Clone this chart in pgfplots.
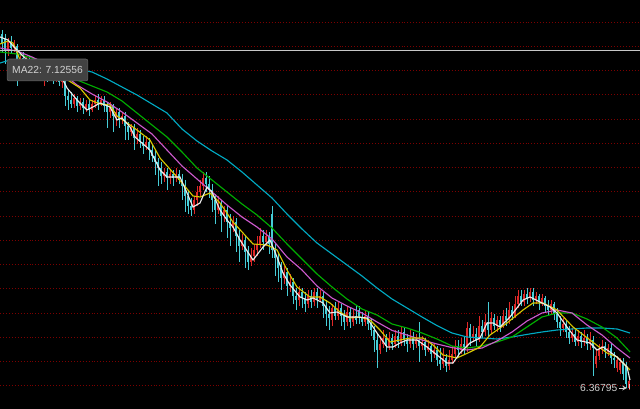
\documentclass[border=0pt]{standalone}
\usepackage{pgfplots}
\pgfplotsset{compat=1.18}
\usepackage{pgfplotstable}
\usepackage{fontspec}
\setmainfont{Liberation Sans}
\definecolor{gridc}{RGB}{125,0,0}
\definecolor{upc}{RGB}{225,40,40}
\definecolor{dnc}{RGB}{70,205,215}
\definecolor{maw}{RGB}{235,235,235}
\definecolor{may}{RGB}{215,200,0}
\definecolor{mam}{RGB}{205,90,205}
\definecolor{mag}{RGB}{0,175,0}
\definecolor{mac}{RGB}{0,170,195}
\definecolor{labbg}{RGB}{66,66,66}
\definecolor{labbd}{RGB}{100,100,100}
\definecolor{txt}{RGB}{210,210,210}
\definecolor{xline}{RGB}{200,200,200}

\pgfplotstableread{
i o h l c
0 7.235 7.245 7.19 7.21
1 7.225 7.235 7.16 7.195
2 7.195 7.225 7.18 7.215
3 7.215 7.23 7.185 7.2
4 7.2 7.22 7.19 7.21
5 7.205 7.21 7.105 7.165
6 7.165 7.185 7.145 7.175
7 7.175 7.19 7.14 7.16
8 7.16 7.18 7.145 7.17
9 7.17 7.18 7.135 7.15
10 7.15 7.17 7.135 7.155
11 7.155 7.165 7.125 7.14
12 7.14 7.16 7.13 7.15
13 7.15 7.16 7.12 7.13
14 7.13 7.15 7.105 7.14
15 7.14 7.15 7.115 7.125
16 7.125 7.145 7.12 7.135
17 7.135 7.145 7.11 7.12
18 7.12 7.14 7.115 7.13
19 7.13 7.14 7.105 7.115
20 7.115 7.135 7.1 7.12
21 7.12 7.13 7.055 7.08
22 7.08 7.095 7.045 7.07
23 7.07 7.09 7.05 7.06
24 7.06 7.085 7.05 7.075
25 7.075 7.08 7.04 7.055
26 7.055 7.075 7.045 7.065
27 7.065 7.075 7.035 7.05
28 7.05 7.07 7.04 7.06
29 7.06 7.07 7.03 7.045
30 7.045 7.07 7.04 7.06
31 7.06 7.08 7.05 7.07
32 7.07 7.085 7.045 7.06
33 7.06 7.08 7.055 7.07
34 7.07 7.08 7.04 7.055
35 7.055 7.065 7.0 7.04
36 7.04 7.065 7.025 7.055
37 7.055 7.06 6.99 7.03
38 7.03 7.05 7.005 7.04
39 7.04 7.05 7.0 7.02
40 7.02 7.04 7.01 7.03
41 7.03 7.04 6.97 7.005
42 7.005 7.015 6.97 6.99
43 6.99 7.01 6.98 7.0
44 7.0 7.01 6.945 6.975
45 6.975 7.0 6.96 6.985
46 6.985 6.995 6.95 6.965
47 6.965 6.98 6.935 6.955
48 6.955 6.98 6.945 6.965
49 6.965 6.975 6.92 6.945
50 6.945 6.96 6.915 6.93
51 6.93 6.945 6.8825 6.915
52 6.915 6.925 6.855 6.9
53 6.9 6.915 6.86 6.88
54 6.88 6.9 6.865 6.89
55 6.89 6.9 6.845 6.875
56 6.875 6.895 6.86 6.885
57 6.885 6.895 6.855 6.875
58 6.875 6.9 6.865 6.885
59 6.885 6.895 6.86 6.87
60 6.87 6.885 6.82 6.855
61 6.855 6.87 6.79 6.83
62 6.83 6.845 6.785 6.805
63 6.805 6.825 6.78 6.795
64 6.795 6.83 6.785 6.82
65 6.82 6.855 6.805 6.84
66 6.84 6.87 6.83 6.855
67 6.855 6.89 6.845 6.875
68 6.875 6.89 6.84 6.86
69 6.86 6.88 6.825 6.845
70 6.845 6.86 6.79 6.82
71 6.82 6.835 6.76 6.795
72 6.795 6.83 6.785 6.81
73 6.81 6.82 6.74 6.78
74 6.78 6.805 6.765 6.795
75 6.795 6.805 6.725 6.765
76 6.765 6.785 6.705 6.75
77 6.75 6.78 6.74 6.765
78 6.765 6.775 6.69 6.73
79 6.73 6.745 6.665 6.705
80 6.705 6.735 6.695 6.72
81 6.72 6.73 6.65 6.69
82 6.69 6.705 6.645 6.665
83 6.665 6.7 6.655 6.68
84 6.68 6.71 6.665 6.695
85 6.695 6.73 6.68 6.71
86 6.71 6.75 6.7 6.73
87 6.73 6.745 6.695 6.715
88 6.715 6.745 6.705 6.73
89 6.73 6.74 6.685 6.71
90 6.785 6.805 6.675 6.695
91 6.695 6.71 6.63 6.675
92 6.675 6.69 6.615 6.65
93 6.65 6.665 6.595 6.625
94 6.625 6.655 6.61 6.64
95 6.64 6.65 6.58 6.605
96 6.605 6.635 6.59 6.615
97 6.615 6.625 6.56 6.58
98 6.58 6.6 6.545 6.57
99 6.57 6.605 6.555 6.59
100 6.59 6.6 6.55 6.575
101 6.575 6.59 6.54 6.56
102 6.56 6.595 6.55 6.58
103 6.58 6.595 6.55 6.565
104 6.565 6.6 6.555 6.59
105 6.59 6.6 6.55 6.57
106 6.57 6.595 6.565 6.58
107 6.58 6.59 6.525 6.555
108 6.555 6.57 6.505 6.535
109 6.535 6.555 6.495 6.525
110 6.52 6.56 6.505 6.55
111 6.55 6.565 6.52 6.53
112 6.53 6.565 6.52 6.55
113 6.55 6.56 6.505 6.53
114 6.53 6.545 6.495 6.515
115 6.515 6.555 6.505 6.54
116 6.54 6.55 6.5 6.515
117 6.515 6.545 6.505 6.53
118 6.53 6.555 6.51 6.52
119 6.545 6.555 6.51 6.525
120 6.525 6.54 6.505 6.515
121 6.515 6.545 6.505 6.53
122 6.53 6.54 6.495 6.51
123 6.51 6.525 6.48 6.495
124 6.495 6.505 6.44 6.47
125 6.47 6.485 6.4 6.445
126 6.445 6.48 6.435 6.46
127 6.46 6.495 6.45 6.475
128 6.475 6.485 6.44 6.455
129 6.455 6.49 6.445 6.475
130 6.475 6.485 6.445 6.46
131 6.46 6.495 6.45 6.48
132 6.48 6.495 6.45 6.465
133 6.465 6.505 6.455 6.49
134 6.49 6.5 6.455 6.47
135 6.47 6.485 6.44 6.46
136 6.46 6.495 6.45 6.475
137 6.475 6.49 6.445 6.46
138 6.46 6.485 6.45 6.47
139 6.47 6.515 6.415 6.455
140 6.455 6.48 6.445 6.465
141 6.465 6.475 6.43 6.445
142 6.445 6.47 6.44 6.455
143 6.455 6.465 6.415 6.435
144 6.435 6.46 6.425 6.445
145 6.445 6.455 6.405 6.42
146 6.42 6.45 6.395 6.41
147 6.41 6.45 6.4 6.425
148 6.425 6.435 6.39 6.405
149 6.405 6.445 6.395 6.42
150 6.42 6.455 6.41 6.435
151 6.435 6.47 6.425 6.455
152 6.455 6.47 6.425 6.445
153 6.445 6.475 6.435 6.46
154 6.46 6.48 6.435 6.45
155 6.45 6.515 6.44 6.5
156 6.5 6.51 6.455 6.475
157 6.475 6.505 6.465 6.485
158 6.485 6.5 6.455 6.47
159 6.47 6.53 6.465 6.505
160 6.505 6.52 6.475 6.49
161 6.49 6.535 6.48 6.515
162 6.515 6.565 6.48 6.495
163 6.495 6.54 6.485 6.525
164 6.525 6.535 6.495 6.505
165 6.505 6.53 6.49 6.52
166 6.52 6.53 6.49 6.505
167 6.505 6.545 6.5 6.53
168 6.53 6.55 6.505 6.52
169 6.52 6.565 6.51 6.545
170 6.545 6.555 6.52 6.53
171 6.53 6.58 6.525 6.56
172 6.56 6.595 6.55 6.58
173 6.58 6.595 6.555 6.565
174 6.565 6.595 6.555 6.585
175 6.585 6.6 6.56 6.575
176 6.575 6.6 6.565 6.59
177 6.59 6.6 6.555 6.57
178 6.57 6.59 6.56 6.58
179 6.58 6.585 6.545 6.565
180 6.565 6.585 6.555 6.575
181 6.575 6.58 6.54 6.555
182 6.555 6.57 6.53 6.545
183 6.545 6.57 6.535 6.56
184 6.56 6.565 6.52 6.535
185 6.535 6.55 6.5 6.515
186 6.515 6.53 6.48 6.5
187 6.5 6.525 6.49 6.51
188 6.51 6.52 6.475 6.49
189 6.49 6.505 6.46 6.475
190 6.475 6.5 6.465 6.485
191 6.485 6.495 6.455 6.465
192 6.465 6.495 6.455 6.48
193 6.48 6.49 6.45 6.465
194 6.465 6.495 6.455 6.475
195 6.475 6.485 6.445 6.46
196 6.46 6.49 6.445 6.47
197 6.47 6.48 6.38 6.45
198 6.41 6.445 6.4 6.43
199 6.43 6.46 6.42 6.445
200 6.445 6.47 6.435 6.455
201 6.455 6.465 6.425 6.44
202 6.44 6.46 6.43 6.45
203 6.45 6.46 6.41 6.425
204 6.425 6.44 6.4 6.42
205 6.4 6.43 6.39 6.42
206 6.395 6.425 6.385 6.415
207 6.415 6.425 6.37 6.385
208 6.405 6.415 6.35 6.36
209 6.35 6.375 6.345 6.36795
}\candles

\pgfplotstableread{
i p
-0.67 7.1625
2.67 7.17
5 7.1675
10 7.1625
15 7.1575
20 7.1525
25 7.1475
30 7.14
35 7.1225
40 7.1025
45 7.0825
50 7.06
55 7.0375
60 6.9975
65 6.9675
70 6.9425
75 6.92
80 6.89
85 6.8575
90 6.825
95 6.785
100 6.7475
105 6.7125
110 6.685
115 6.6575
120 6.63
125 6.6
130 6.5725
135 6.55
140 6.5275
145 6.506
150 6.4875
155 6.4775
160 6.475
165 6.4725
170 6.4775
175 6.484
180 6.49
185 6.495
190 6.4975
195 6.5
200 6.5
205 6.4975
209.33 6.4875
}\macyan

\pgfplotstableread{
i p
-0.67 7.19
5 7.185
10 7.175
15 7.16
20 7.14
25 7.12
30 7.105
35 7.09
40 7.0675
45 7.0375
50 7.0075
55 6.9775
60 6.94
65 6.90
70 6.87
75 6.84
80 6.81
85 6.7825
90 6.75
95 6.71
100 6.6725
105 6.635
110 6.6025
115 6.5725
120 6.5475
125 6.5325
130 6.51
135 6.50
140 6.4875
145 6.4725
150 6.455
155 6.45
160 6.455
165 6.465
170 6.4775
175 6.5025
180 6.5275
185 6.5375
190 6.5375
195 6.5225
200 6.5025
205 6.475
209.33 6.44
}\magreen

\pgfplotstableread{
i p
-0.67 7.2
5 7.1925
10 7.1775
15 7.16
20 7.1375
25 7.1075
30 7.085
35 7.065
40 7.04
45 7.0125
50 6.985
55 6.945
60 6.905
65 6.8725
70 6.84
75 6.8075
80 6.7775
85 6.7525
90 6.7225
95 6.6775
100 6.645
105 6.605
110 6.575
115 6.555
120 6.5375
125 6.515
130 6.494
135 6.4825
140 6.47
145 6.46
150 6.451
155 6.445
160 6.45
165 6.4675
170 6.49
175 6.5175
180 6.5375
185 6.545
190 6.5375
195 6.5075
200 6.4825
205 6.45
209.33 6.425
}\mamag

\pgfplotstableread{
i p
-0.67 7.21
2 7.2175
3.67 7.2125
5 7.19
6 7.17
9.33 7.155
14.33 7.1425
20.33 7.1275
26 7.10
29.33 7.07
32.67 7.06
36 7.0575
38.33 7.03
43.67 7.0025
49.33 6.97
52.67 6.925
58.33 6.8775
63.67 6.83
66 6.8275
69.33 6.8375
72.67 6.8125
77 6.765
80.33 6.7375
83.67 6.71
88.33 6.7075
91.67 6.695
95 6.645
98.33 6.6025
102.67 6.5775
106 6.5775
109.33 6.5625
112.67 6.54
116 6.525
119.33 6.5275
122.67 6.52
126 6.495
129.33 6.465
132.67 6.47
136 6.475
140.33 6.475
143.67 6.4575
147 6.4325
151.67 6.425
156 6.44
159.33 6.4525
162.67 6.4825
166 6.50
168.33 6.5125
173.67 6.545
177 6.5625
180.33 6.5625
185 6.545
190.33 6.5025
196 6.47
201.67 6.4375
205 6.4275
209.33 6.395
}\mayellow

\pgfplotstableread{
i p
-0.67 7.2275
2 7.22
4.33 7.20
7.67 7.175
12.67 7.15
17.67 7.1325
20.33 7.12
21.67 7.10
25 7.07
28.33 7.045
30.33 7.0525
32.67 7.0625
36 7.0525
38.33 7.02
40 7.025
42.67 7.0025
44.33 6.9775
49.33 6.945
52.67 6.895
55 6.8775
59.33 6.8775
61.67 6.8375
63.67 6.8025
66 6.8125
68.33 6.8525
70 6.84
72.67 6.795
75 6.77
77 6.7525
79.33 6.72
83.67 6.67
87 6.7025
89.33 6.72
91.67 6.6775
93.67 6.6375
96 6.6075
99.33 6.5775
101.67 6.57
103.67 6.575
107 6.5625
109.33 6.5375
111.67 6.54
115 6.5275
118.33 6.5275
121.67 6.525
125 6.4875
128.33 6.4525
130.33 6.4525
132.67 6.4625
135 6.47
138.33 6.47
141.67 6.4525
145 6.4325
148.33 6.4125
150.33 6.4125
152.67 6.4375
156 6.4625
159.33 6.475
161.67 6.5125
163.67 6.5125
166 6.5025
169.33 6.5275
173.67 6.57
176 6.5775
179.33 6.565
182.67 6.5525
185 6.5375
188.33 6.5025
191.67 6.47
196 6.4625
198.33 6.445
200.33 6.4525
205 6.4275
208.33 6.4025
209.33 6.37
}\mawhite

\begin{document}
\begin{tikzpicture}
\begin{axis}[
  scale only axis, width=16cm, height=10.225cm,
  xmin=-0.667, xmax=212.667, ymin=6.2975, ymax=7.32,
  axis background/.style={fill=black},
  axis line style={draw=none},
  xtick=\empty,
  ytick={7.265,7.204375,7.14375,7.083125,7.0225,6.961875,6.90125,6.840625,6.78,6.719375,6.65875,6.598125,6.5375,6.476875,6.41625,6.355625},
  yticklabels={},
  major tick length=0pt,
  ymajorgrids,
  grid style={gridc, line width=0.6pt, dash pattern=on 0.7pt off 1.4pt},
  unbounded coords=discard,
]
% wicks
\addplot[upc, solid, line width=0.7pt, -, quiver={u=0, v=\thisrow{h}-\thisrow{l}},
  x filter/.expression={\thisrow{c}>\thisrow{o} ? x : nan}]
  table[x=i, y=l] {\candles};
\addplot[dnc, solid, line width=0.7pt, -, quiver={u=0, v=\thisrow{h}-\thisrow{l}},
  x filter/.expression={\thisrow{c}<\thisrow{o} ? x : nan}]
  table[x=i, y=l] {\candles};
% bodies
\addplot[upc, solid, line width=1.45pt, -, quiver={u=0, v=\thisrow{c}-\thisrow{o}},
  x filter/.expression={\thisrow{c}>\thisrow{o} ? x : nan}]
  table[x=i, y=o] {\candles};
\addplot[dnc, solid, line width=1.45pt, -, quiver={u=0, v=\thisrow{o}-\thisrow{c}},
  x filter/.expression={\thisrow{c}<\thisrow{o} ? x : nan}]
  table[x=i, y=c] {\candles};
% moving averages
\addplot[mac, solid, line width=0.8pt, no marks] table[x=i, y=p] {\macyan};
\addplot[mag, solid, line width=0.8pt, no marks] table[x=i, y=p] {\magreen};
\addplot[mam, solid, line width=0.8pt, no marks] table[x=i, y=p] {\mamag};
\addplot[may, solid, line width=0.8pt, no marks] table[x=i, y=p] {\mayellow};
\addplot[maw, solid, line width=0.8pt, no marks] table[x=i, y=p] {\mawhite};
% crosshair
\addplot[xline, solid, line width=1.1pt, no marks] coordinates {(-0.667,7.19375) (212.667,7.19375)};
% labels
\node[fill=labbg, draw=labbd, rounded corners=1.5pt, minimum width=57.5pt, minimum height=15.6pt, inner sep=0pt, text=txt, font=\fontsize{7.3}{8}\selectfont] at (axis cs:15.17,7.145) {MA22: 7.12556};
\node[anchor=east, inner sep=0pt, text=txt, font=\fontsize{7.3}{8}\selectfont] at (axis cs:205.2,6.35) {6.36795};
\draw[txt, line width=0.6pt, ->, >=stealth] (axis cs:205.6,6.35) -- (axis cs:208.4,6.35);
\draw[txt, line width=0.6pt] (axis cs:209,6.348) -- (axis cs:209,6.36);
\end{axis}
\pgfresetboundingbox
\useasboundingbox (current axis.south west) rectangle (current axis.north east);
\end{tikzpicture}
\end{document}
